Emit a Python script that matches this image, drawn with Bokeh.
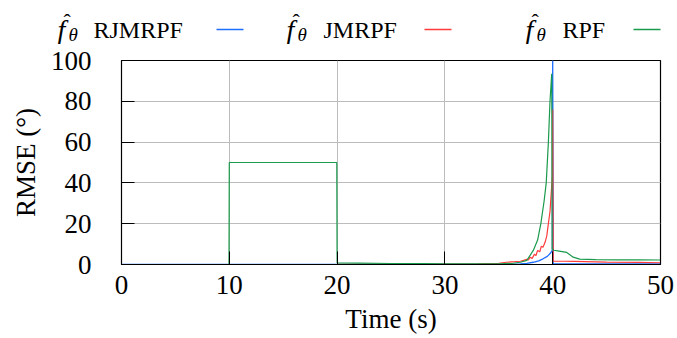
from bokeh.plotting import figure
from bokeh.models import Range1d, FixedTicker
from bokeh.core.properties import value
from bokeh.embed import file_html
from bokeh.resources import INLINE

# ---- data ----
t_rjmrpf = [0, 20, 30, 35, 36.0, 37.0, 37.6, 38.2, 38.7, 39.1, 39.5, 39.8, 39.97, 40.0, 40.05, 42, 45, 50]
v_rjmrpf = [0, 0, 0, 0, 0.1, 0.3, 0.6, 1.1, 1.8, 2.8, 4.0, 5.6, 7.0, 100, 0.3, 0.3, 0.3, 0.3]

t_jmrpf = [0, 20, 20.05, 25, 30, 33, 35, 35.7, 36.5, 37.0, 37.3, 37.6, 37.75, 37.9, 38.1, 38.3, 38.45, 38.6,
           38.8, 38.95, 39.1, 39.3, 39.45, 39.6, 39.75, 39.9, 39.97, 40.0, 40.05, 41, 42, 45, 48, 50]
v_jmrpf = [0, 0, 0.1, 0.1, 0.2, 0.3, 0.6, 1.1, 1.4, 1.6, 2.0, 2.6, 2.2, 3.6, 3.0, 5.0, 4.4, 6.9,
           6.2, 9.0, 8.5, 11, 14, 20, 26, 38, 43, 76, 1.6, 1.6, 1.5, 1.2, 1.0, 0.85]

t_rpf = [0, 9.97, 10.0, 19.97, 20.0, 22, 25, 28, 30, 33, 35, 36.3, 37.0, 37.6, 38.2, 38.6, 38.9, 39.2,
         39.4, 39.6, 39.75, 39.91, 39.95, 40.1, 40.6, 41.3, 41.9, 42.5, 44, 46, 48, 50]
v_rpf = [0, 0, 50, 50, 0.8, 0.7, 0.5, 0.4, 0.3, 0.3, 0.3, 0.6, 1.1, 2.0, 6.9, 12, 20, 31,
         40, 60, 80, 93.5, 7.5, 7.0, 6.6, 5.9, 3.6, 2.6, 2.4, 2.3, 2.3, 2.2]

series_names = ["RJMRPF", "JMRPF", "RPF"]
series_colors = ["#1f6fff", "#ff3b3b", "#1a9a4c"]
x_ticks = [0, 10, 20, 30, 40, 50]
y_ticks = [0, 20, 40, 60, 80, 100]

FONT = "'Liberation Serif'"
W = 677
LEG_H = 44
MAIN_H = 338 - LEG_H

# ---- legend strip (label first, then line sample); coordinates are page pixels ----
leg = figure(width=W, height=LEG_H, x_range=Range1d(0, W), y_range=Range1d(0, LEG_H),
             output_backend="svg", toolbar_location=None,
             x_axis_location=None, y_axis_location=None, min_border=0)
leg.outline_line_color = None
leg.xgrid.visible = False
leg.ygrid.visible = False
leg.border_fill_alpha = 0
leg.background_fill_alpha = 0

def ly(page_y):
    return LEG_H - page_y

TEXT_SHIFT = 8    # measured offset of text baselines
LINE_SHIFT = 1    # measured offset of the strip

f_px = [57, 286, 525]
name_px = [93, 323, 562]
line_px = [216, 424, 633]
for fx, nx, lx, name, col in zip(f_px, name_px, line_px, series_names, series_colors):
    leg.text(x=[fx + 6], y=[ly(29 - TEXT_SHIFT)], text=["ˆ"], text_font=value(FONT), text_font_size="22px",
             text_baseline="alphabetic", text_color="black")
    leg.text(x=[fx], y=[ly(37 - TEXT_SHIFT)], text=["f"], text_font=value(FONT), text_font_style="italic",
             text_font_size="28px", text_baseline="alphabetic", text_color="black")
    leg.text(x=[fx + 11], y=[ly(42 - TEXT_SHIFT)], text=["θ"], text_font=value(FONT), text_font_style="italic",
             text_font_size="19px", text_baseline="alphabetic", text_color="black")
    leg.text(x=[nx], y=[ly(37 - TEXT_SHIFT)], text=[name], text_font=value(FONT), text_font_size="24px",
             text_baseline="alphabetic", text_color="black")
    leg.segment(x0=[lx], y0=[ly(30 - LINE_SHIFT)], x1=[lx + 27], y1=[ly(30 - LINE_SHIFT)],
                line_color=col, line_width=1.3)

# ---- main plot ----
p = figure(width=W, height=MAIN_H, x_range=Range1d(0, 50), y_range=Range1d(0, 100),
           output_backend="svg", toolbar_location=None,
           min_border_left=121, min_border_right=17, min_border_top=60 - LEG_H,
           min_border_bottom=338 - 264)
p.border_fill_alpha = 0

p.line(t_rjmrpf, v_rjmrpf, line_color=series_colors[0], line_width=1.3)
p.line(t_jmrpf, v_jmrpf, line_color=series_colors[1], line_width=1.2)
p.line(t_rpf, v_rpf, line_color=series_colors[2], line_width=1.2)

p.outline_line_color = "black"
p.outline_line_width = 1.2
p.outline_line_alpha = 1.0

for ax in (p.xaxis[0], p.yaxis[0]):
    ax.major_label_text_font = FONT
    ax.major_label_text_font_size = "27px"
    ax.major_label_text_color = "black"
    ax.axis_label_text_font = FONT
    ax.axis_label_text_font_size = "27px"
    ax.axis_label_text_font_style = "normal"
    ax.axis_label_text_color = "black"
    ax.major_tick_in = 13
    ax.major_tick_out = 0
    ax.minor_tick_in = 0
    ax.minor_tick_out = 0
    ax.major_tick_line_color = "black"
    ax.axis_line_color = "black"

p.xaxis[0].ticker = FixedTicker(ticks=x_ticks)
p.yaxis[0].ticker = FixedTicker(ticks=y_ticks)
p.xaxis[0].axis_label = "Time (s)"
p.yaxis[0].axis_label = "RMSE (°)"
p.xaxis[0].major_label_standoff = 11
p.yaxis[0].major_label_standoff = 30
p.xaxis[0].axis_label_standoff = 7
p.yaxis[0].axis_label_standoff = 7

p.xgrid.grid_line_color = "#bcbcbc"
p.ygrid.grid_line_color = "#bcbcbc"

open("out.html", "w").write(file_html([leg, p], INLINE))
